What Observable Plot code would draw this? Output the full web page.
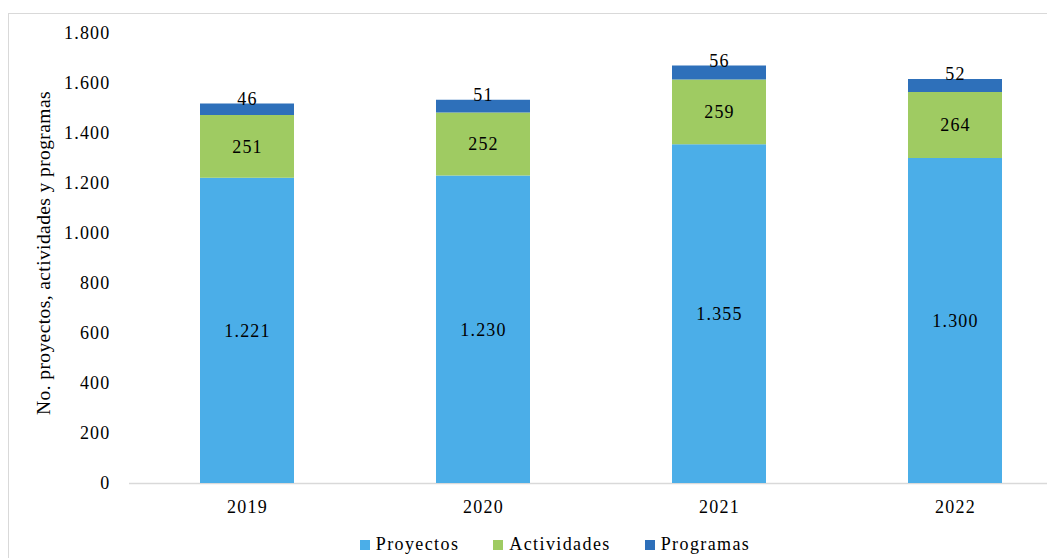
<!DOCTYPE html>
<html>
<head>
<meta charset="utf-8">
<script src="https://cdn.jsdelivr.net/npm/d3@7"></script>
<script src="https://cdn.jsdelivr.net/npm/@observablehq/plot@0.6"></script>
<style>
  html, body { margin: 0; padding: 0; background: #fff; overflow: hidden; width: 1047px; height: 558px; }
  body { font-family: "Liberation Serif", "Times New Roman", serif; position: relative; }
  #frame { position: absolute; left: 8px; top: 13px; width: 1100px; height: 600px; border: 1.5px solid #d9d9d9; box-sizing: border-box; }
  #chart { position: absolute; left: 0; top: 0; width: 1073px; }
  #chart svg { max-width: none !important; width: 1073px !important; height: 525px !important; }
  #ylabel { position: absolute; left: 44px; top: 253px; transform: translate(-50%, -50%) rotate(-90deg); white-space: nowrap; font-size: 19.5px; color: #000; letter-spacing: 0.4px; }
  #legend { position: absolute; left: 0; width: 1110px; top: 534px; display: flex; justify-content: center; font-size: 18px; letter-spacing: 1.4px; color: #000; }
  #legend .item { display: flex; align-items: center; margin: 0 17px; }
  #legend .sw { width: 10px; height: 10px; margin-right: 6px; }
</style>
</head>
<body>
<div id="frame"></div>
<div id="chart"></div>
<div id="ylabel">No. proyectos, actividades y programas</div>
<div id="legend"></div>
<script>
const years = ["2019", "2020", "2021", "2022"];
const seriesNames = ["Proyectos", "Actividades", "Programas"];
const proyectos = [1221, 1230, 1355, 1300];
const actividades = [251, 252, 259, 264];
const programas = [46, 51, 56, 52];
const colors = ["#4baee8", "#9fcb62", "#2e70ba"];
const yTicks = [0, 200, 400, 600, 800, 1000, 1200, 1400, 1600, 1800];

const loc = d3.formatLocale({decimal: ",", thousands: ".", grouping: [3], currency: ["", "€"]});
const fmt = loc.format(",d");

const valuesBySeries = [proyectos, actividades, programas];
const data = [];
seriesNames.forEach((s, si) => {
  years.forEach((y, yi) => data.push({year: y, series: s, value: valuesBySeries[si][yi]}));
});
const totals = years.map((y, i) => ({year: y, total: proyectos[i] + actividades[i] + programas[i], value: programas[i]}));

const plot = Plot.plot({
  width: 1073,
  height: 525,
  marginLeft: 129,
  marginRight: 0,
  marginTop: 33,
  marginBottom: 42,
  style: {fontFamily: "Liberation Serif, Times New Roman, serif", fontSize: "18px", color: "#000", background: "transparent", letterSpacing: "1.2px", maxWidth: "none"},
  x: {domain: years, paddingInner: 0.6, paddingOuter: 0.3, label: null, tickSize: 0, tickPadding: 17},
  y: {domain: [0, 1800], ticks: yTicks, tickFormat: fmt, label: null, tickSize: 0, tickPadding: 19},
  color: {domain: seriesNames, range: colors},
  marks: [
    Plot.ruleY([0], {stroke: "#d9d9d9", strokeWidth: 1.5}),
    Plot.barY(data, {x: "year", y: "value", fill: "series", order: seriesNames}),
    Plot.text(data.filter(d => d.series !== "Programas"), Plot.stackY({x: "year", y: "value", z: "series", order: seriesNames, text: d => fmt(d.value), fill: "#000"})),
    Plot.text(totals, {x: "year", y: "total", text: d => fmt(d.value), dy: -5, fill: "#000"})
  ]
});
document.getElementById("chart").appendChild(plot);

const legend = document.getElementById("legend");
seriesNames.forEach((s, i) => {
  const it = document.createElement("div");
  it.className = "item";
  it.innerHTML = `<span class="sw" style="background:${colors[i]}"></span><span>${s}</span>`;
  legend.appendChild(it);
});
</script>
</body>
</html>
